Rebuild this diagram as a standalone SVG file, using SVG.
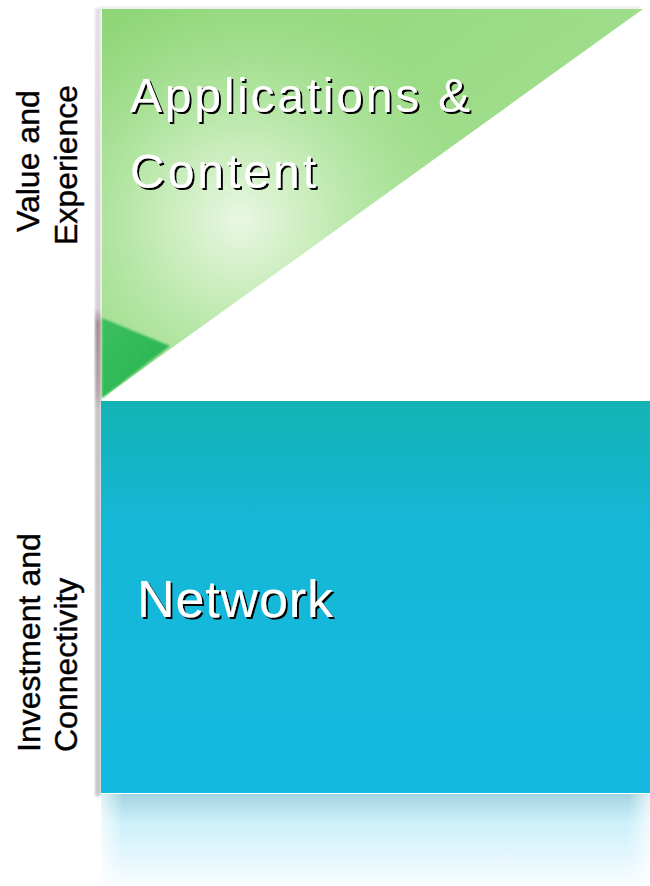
<svg xmlns="http://www.w3.org/2000/svg" width="650" height="886" viewBox="0 0 650 886">
  <defs>
    <linearGradient id="greenBase" x1="0" y1="0" x2="1" y2="1">
      <stop offset="0" stop-color="#8fd678"/>
      <stop offset="0.5" stop-color="#9edd8a"/>
      <stop offset="1" stop-color="#7fd672"/>
    </linearGradient>
    <radialGradient id="greenGlow" cx="240" cy="220" r="230" gradientUnits="userSpaceOnUse">
      <stop offset="0" stop-color="#eaf8e4" stop-opacity="1"/>
      <stop offset="0.35" stop-color="#d2f0c6" stop-opacity="0.8"/>
      <stop offset="1" stop-color="#b0e6a0" stop-opacity="0"/>
    </radialGradient>
    <linearGradient id="greenCorner" x1="0" y1="0" x2="1" y2="1">
      <stop offset="0" stop-color="#3cbf5e"/>
      <stop offset="1" stop-color="#24b452"/>
    </linearGradient>
    <linearGradient id="netFill" x1="0" y1="0" x2="0" y2="1">
      <stop offset="0" stop-color="#13b3b4"/>
      <stop offset="0.3" stop-color="#15b7d6"/>
      <stop offset="1" stop-color="#14bae0"/>
    </linearGradient>
    <linearGradient id="reflect" x1="0" y1="0" x2="0" y2="1">
      <stop offset="0" stop-color="#a2d4e0"/>
      <stop offset="0.3" stop-color="#cdeffa"/>
      <stop offset="1" stop-color="#f8fdff"/>
    </linearGradient>
    <linearGradient id="reflectEdge" x1="0" y1="0" x2="1" y2="0">
      <stop offset="0" stop-color="#ffffff" stop-opacity="0.7"/>
      <stop offset="0.04" stop-color="#ffffff" stop-opacity="0"/>
      <stop offset="0.96" stop-color="#ffffff" stop-opacity="0"/>
      <stop offset="1" stop-color="#ffffff" stop-opacity="0.7"/>
    </linearGradient>
    <linearGradient id="edgeBar" x1="0" y1="0" x2="0" y2="1">
      <stop offset="0" stop-color="#e4e0e4"/>
      <stop offset="0.38" stop-color="#d8d2d8"/>
      <stop offset="0.40" stop-color="#a89098"/>
      <stop offset="0.49" stop-color="#b8a8b0"/>
      <stop offset="0.51" stop-color="#c8c4c8"/>
      <stop offset="1" stop-color="#c8c8c8"/>
    </linearGradient>
    <filter id="soft" x="-5%" y="-5%" width="110%" height="110%">
      <feGaussianBlur stdDeviation="0.8"/>
    </filter>
    <!-- hard black drop shadow behind the white titles -->
    <filter id="dropShadow" x="-5%" y="-10%" width="115%" height="130%">
      <feOffset in="SourceAlpha" dx="2" dy="2" result="off"/>
      <feFlood flood-color="#000000"/>
      <feComposite in2="off" operator="in" result="shadow"/>
      <feMerge>
        <feMergeNode in="shadow"/>
        <feMergeNode in="SourceGraphic"/>
      </feMerge>
    </filter>
  </defs>
  <style>
    .title { font-family: "Liberation Sans", Arial, sans-serif; font-size: 48px; fill: #ffffff; filter: url(#dropShadow); }
    .axis { font-family: "Liberation Sans", Arial, sans-serif; font-size: 32px; fill: #000000; stroke: #000000; stroke-width: 0.4; }
  </style>

  <rect width="650" height="886" fill="#ffffff"/>

  <!-- left edge shading -->
  <rect x="95" y="8" width="6" height="788" fill="url(#edgeBar)" filter="url(#soft)"/>
  <!-- faint top edge -->
  <rect x="100" y="7" width="540" height="2" fill="#e4e4e4" filter="url(#soft)"/>

  <!-- top triangle: applications and content -->
  <g id="applications">
    <polygon points="102,9 643,9 102,398" fill="url(#greenBase)"/>
    <polygon points="102,9 643,9 102,398" fill="url(#greenGlow)"/>
    <polygon points="102,318 170,346 102,398" fill="url(#greenCorner)" filter="url(#soft)"/>
    <text class="title" x="130" y="112" textLength="340" lengthAdjust="spacing">Applications &amp;</text>
    <text class="title" x="130" y="188" textLength="186" lengthAdjust="spacing">Content</text>
  </g>

  <!-- bottom block: network -->
  <g id="network">
    <rect x="101" y="401" width="549" height="392" fill="url(#netFill)"/>
    <text class="title" x="137" y="617" style="font-size:52px" textLength="196" lengthAdjust="spacing">Network</text>
  </g>

  <!-- reflection under the network block -->
  <g id="reflection">
    <rect x="101" y="794" width="549" height="92" fill="url(#reflect)"/>
    <rect x="101" y="794" width="549" height="92" fill="url(#reflectEdge)"/>
  </g>

  <!-- axis labels -->
  <g id="axis-top">
    <text class="axis" transform="translate(39,232) rotate(-90)">Value and</text>
    <text class="axis" transform="translate(77,245) rotate(-90)">Experience</text>
  </g>
  <g id="axis-bottom">
    <text class="axis" transform="translate(40,752) rotate(-90)">Investment and</text>
    <text class="axis" transform="translate(77,752) rotate(-90)">Connectivity</text>
  </g>
</svg>
